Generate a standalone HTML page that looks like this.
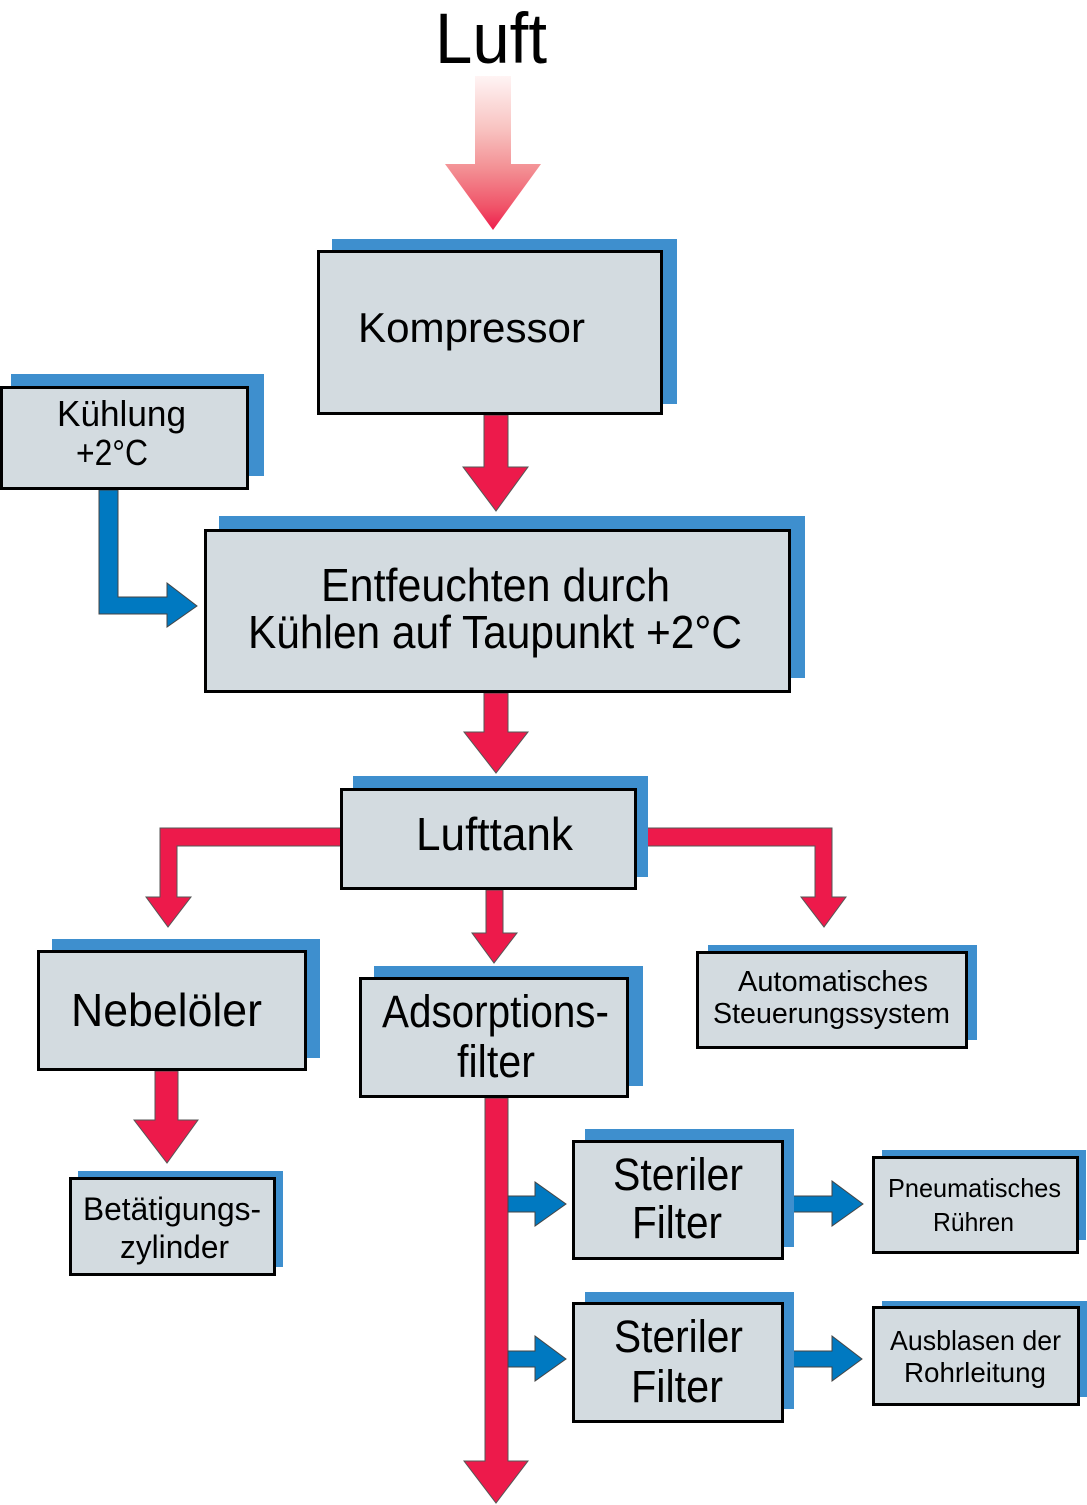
<!DOCTYPE html>
<html>
<head>
<meta charset="utf-8">
<style>
  html,body{margin:0;padding:0;background:#fff;}
  svg{display:block;}
  text{font-family:"Liberation Sans",Arial,sans-serif;fill:#000;}
</style>
</head>
<body>
<svg width="1087" height="1505" viewBox="0 0 1087 1505" xmlns="http://www.w3.org/2000/svg">
  <defs>
    <linearGradient id="grad" x1="0" y1="76" x2="0" y2="230" gradientUnits="userSpaceOnUse">
      <stop offset="0" stop-color="#fff4f4"/>
      <stop offset="0.35" stop-color="#f8c2c0"/>
      <stop offset="0.6" stop-color="#f39094"/>
      <stop offset="0.85" stop-color="#f05469"/>
      <stop offset="1" stop-color="#ee1c4c"/>
    </linearGradient>
  </defs>

  <!-- Luft -->
  <text x="435" y="63" font-size="71" textLength="112" lengthAdjust="spacingAndGlyphs">Luft</text>
  <polygon points="475,76 511,76 511,164 541,164 493,230 445,164 475,164" fill="url(#grad)"/>

  <!-- red connectors -->
  <g fill="#ed1a4b" stroke="#555" stroke-width="1">
    <polygon points="484,415 508,415 508,467 528,467 496,511 463,467 484,467"/>
    <polygon points="484,693 508,693 508,732 528,732 496,773 464,732 484,732"/>
    <polygon points="486,890 503,890 503,933 517,933 494,963 472,933 486,933"/>
    <polygon points="345,828 160,828 160,897 146,897 168,927 191,897 177,897 177,846 345,846"/>
    <polygon points="640,828 832,828 832,897 846,897 824,927 801,897 815,897 815,846 640,846"/>
    <polygon points="155,1071 178,1071 178,1120 198,1120 167,1163 134,1120 155,1120"/>
    <polygon points="485,1098 508,1098 508,1461 528,1461 496,1503 464,1461 485,1461"/>
  </g>

  <!-- blue connectors -->
  <g fill="#0079c1" stroke="#444" stroke-width="1">
    <polygon points="99,490 118,490 118,597 167,597 167,583 197,606 167,627 167,614 99,614"/>
    <polygon points="508,1196 535,1196 535,1182 566,1204 535,1226 535,1212 508,1212"/>
    <polygon points="790,1196 832,1196 832,1181 863,1204 832,1226 832,1212 790,1212"/>
    <polygon points="508,1351 535,1351 535,1336 566,1359 535,1381 535,1367 508,1367"/>
    <polygon points="790,1351 832,1351 832,1336 862,1359 832,1381 832,1367 790,1367"/>
  </g>

  <!-- boxes: shadow then box -->
  <g>
    <!-- Kompressor -->
    <rect x="332" y="239" width="345" height="165" fill="#3e8fce"/>
    <rect x="318.5" y="251.5" width="343" height="162" fill="#d3dbe0" stroke="#000" stroke-width="3"/>
    <!-- Kühlung -->
    <rect x="11" y="374" width="253" height="102" fill="#3e8fce"/>
    <rect x="1.5" y="387.5" width="246" height="101" fill="#d3dbe0" stroke="#000" stroke-width="3"/>
    <!-- Entfeuchten -->
    <rect x="219" y="516" width="586" height="162" fill="#3e8fce"/>
    <rect x="205.5" y="530.5" width="584" height="161" fill="#d3dbe0" stroke="#000" stroke-width="3"/>
    <!-- Lufttank -->
    <rect x="353" y="776" width="295" height="101" fill="#3e8fce"/>
    <rect x="341.5" y="789.5" width="294" height="99" fill="#d3dbe0" stroke="#000" stroke-width="3"/>
    <!-- Nebelöler -->
    <rect x="52" y="939" width="268" height="119" fill="#3e8fce"/>
    <rect x="38.5" y="951.5" width="267" height="118" fill="#d3dbe0" stroke="#000" stroke-width="3"/>
    <!-- Betätigungszylinder -->
    <rect x="78" y="1171" width="205" height="96" fill="#3e8fce"/>
    <rect x="70.5" y="1178.5" width="204" height="96" fill="#d3dbe0" stroke="#000" stroke-width="3"/>
    <!-- Adsorptionsfilter -->
    <rect x="374" y="966" width="269" height="120" fill="#3e8fce"/>
    <rect x="360.5" y="978.5" width="267" height="118" fill="#d3dbe0" stroke="#000" stroke-width="3"/>
    <!-- Automatisches -->
    <rect x="708" y="945" width="269" height="95" fill="#3e8fce"/>
    <rect x="697.5" y="952.5" width="269" height="95" fill="#d3dbe0" stroke="#000" stroke-width="3"/>
    <!-- Steriler 1 -->
    <rect x="585" y="1129" width="209" height="118" fill="#3e8fce"/>
    <rect x="573.5" y="1141.5" width="209" height="117" fill="#d3dbe0" stroke="#000" stroke-width="3"/>
    <!-- Pneumatisches -->
    <rect x="882" y="1150" width="204" height="90" fill="#3e8fce"/>
    <rect x="873.5" y="1157.5" width="204" height="95" fill="#d3dbe0" stroke="#000" stroke-width="3"/>
    <!-- Steriler 2 -->
    <rect x="585" y="1292" width="209" height="117" fill="#3e8fce"/>
    <rect x="573.5" y="1303.5" width="209" height="118" fill="#d3dbe0" stroke="#000" stroke-width="3"/>
    <!-- Ausblasen -->
    <rect x="882" y="1301" width="205" height="96" fill="#3e8fce"/>
    <rect x="873.5" y="1307.5" width="205" height="97" fill="#d3dbe0" stroke="#000" stroke-width="3"/>
  </g>

  <!-- labels -->
  <text x="358" y="342" font-size="42" textLength="227" lengthAdjust="spacingAndGlyphs">Kompressor</text>
  <text x="57" y="426" font-size="36" textLength="129" lengthAdjust="spacingAndGlyphs">Kühlung</text>
  <text x="76" y="465" font-size="36" textLength="72" lengthAdjust="spacingAndGlyphs">+2°C</text>
  <text x="321" y="601" font-size="46" textLength="349" lengthAdjust="spacingAndGlyphs">Entfeuchten durch</text>
  <text x="248" y="648" font-size="46" textLength="494" lengthAdjust="spacingAndGlyphs">Kühlen auf Taupunkt +2°C</text>
  <text x="416" y="850" font-size="46" textLength="157" lengthAdjust="spacingAndGlyphs">Lufttank</text>
  <text x="71" y="1026" font-size="46" textLength="191" lengthAdjust="spacingAndGlyphs">Nebelöler</text>
  <text x="382" y="1027" font-size="45" textLength="227" lengthAdjust="spacingAndGlyphs">Adsorptions-</text>
  <text x="457" y="1077" font-size="45" textLength="78" lengthAdjust="spacingAndGlyphs">filter</text>
  <text x="83" y="1220" font-size="32" textLength="178" lengthAdjust="spacingAndGlyphs">Betätigungs-</text>
  <text x="120" y="1258" font-size="32" textLength="109" lengthAdjust="spacingAndGlyphs">zylinder</text>
  <text x="738" y="991" font-size="29" textLength="190" lengthAdjust="spacingAndGlyphs">Automatisches</text>
  <text x="713" y="1023" font-size="29" textLength="237" lengthAdjust="spacingAndGlyphs">Steuerungssystem</text>
  <text x="613" y="1190" font-size="45" textLength="130" lengthAdjust="spacingAndGlyphs">Steriler</text>
  <text x="632" y="1238" font-size="45" textLength="90" lengthAdjust="spacingAndGlyphs">Filter</text>
  <text x="614" y="1352" font-size="45" textLength="129" lengthAdjust="spacingAndGlyphs">Steriler</text>
  <text x="631" y="1402" font-size="45" textLength="92" lengthAdjust="spacingAndGlyphs">Filter</text>
  <text x="888" y="1197" font-size="26" textLength="173" lengthAdjust="spacingAndGlyphs">Pneumatisches</text>
  <text x="933" y="1231" font-size="26" textLength="81" lengthAdjust="spacingAndGlyphs">Rühren</text>
  <text x="890" y="1350" font-size="28" textLength="171" lengthAdjust="spacingAndGlyphs">Ausblasen der</text>
  <text x="904" y="1382" font-size="28" textLength="142" lengthAdjust="spacingAndGlyphs">Rohrleitung</text>
</svg>
</body>
</html>
